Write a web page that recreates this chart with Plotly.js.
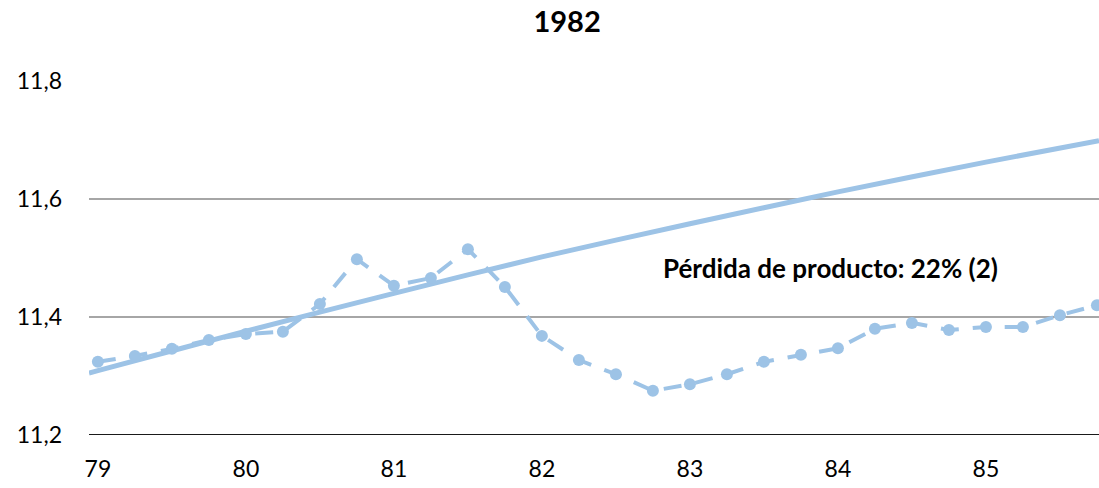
<!DOCTYPE html>
<html>
<head>
<meta charset="utf-8">
<script src="https://cdn.plot.ly/plotly-3.0.1.min.js"></script>
<style>html,body{margin:0;padding:0;background:#fff;}#chart{width:1099px;height:488px;}</style>
</head>
<body>
<div id="chart"></div>
<script>
// Quarterly periods (year 79 = 1979)
const periods = [79, 79.25, 79.5, 79.75, 80, 80.25, 80.5, 80.75, 81, 81.25, 81.5, 81.75,
  82, 82.25, 82.5, 82.75, 83, 83.25, 83.5, 83.75, 84, 84.25, 84.5, 84.75, 85, 85.25, 85.5, 85.75];
// Log product (observed)
const product = [11.324, 11.334, 11.346, 11.361, 11.371, 11.375, 11.422, 11.498, 11.453, 11.466, 11.515, 11.451,
  11.368, 11.327, 11.303, 11.275, 11.286, 11.303, 11.324, 11.336, 11.347, 11.380, 11.390, 11.378, 11.383, 11.383, 11.403, 11.420];
// Pre-crisis trend
const trendX = [78.94, 79, 80, 81, 82, 83, 84, 85, 85.764];
const trendY = [11.305, 11.309, 11.376, 11.440, 11.502, 11.558, 11.612, 11.6625, 11.699];
const xTickVals = [79, 80, 81, 82, 83, 84, 85];
const xTickText = ['79', '80', '81', '82', '83', '84', '85'];
const yTickVals = [11.2, 11.4, 11.6, 11.8];
const yTickText = ['11,2', '11,4', '11,6', '11,8'];
const titleText = '1982';
const noteText = 'Pérdida de producto: 22% (2)';

const blue = '#9dc3e6';
const font = 'Lato, "Open Sans", sans-serif';

const data = [
  {x: trendX, y: trendY, type: 'scatter', mode: 'lines',
   line: {color: blue, width: 5, shape: 'spline', smoothing: 0.6}, hoverinfo: 'skip', showlegend: false},
  {x: periods, y: product, type: 'scatter', mode: 'lines+markers',
   line: {color: blue, width: 4, dash: '18px,14px'},
   marker: {color: blue, size: 12}, showlegend: false}
];

const layout = {
  width: 1099, height: 488,
  margin: {l: 89, r: 0, t: 81, b: 53},
  paper_bgcolor: '#fff', plot_bgcolor: '#fff',
  title: {text: '<b>' + titleText + '</b>', x: 0.516, xanchor: 'center', y: 0.955, yanchor: 'middle',
          font: {family: font, size: 29, color: '#000'}},
  xaxis: {range: [78.94, 85.764], tickvals: xTickVals, ticktext: xTickText,
          showgrid: false, zeroline: false, showline: false, ticks: '',
          ticklabelstandoff: 18,
          tickfont: {family: font, size: 23, color: '#000'}},
  yaxis: {range: [11.2, 11.8], tickvals: yTickVals, ticktext: yTickText,
          showgrid: true, gridcolor: '#a6a6a6', gridwidth: 1.5, zeroline: false,
          showline: false, ticks: '', ticklabelstandoff: 26,
          tickfont: {family: font, size: 23, color: '#000'}},
  shapes: [{type: 'line', xref: 'paper', yref: 'y', x0: 0, x1: 1, y0: 11.2, y1: 11.2,
            line: {color: '#1a1a1a', width: 2}}],
  annotations: [{x: 83.95, y: 11.483, xref: 'x', yref: 'y', text: '<b>' + noteText + '</b>',
                 showarrow: false, xanchor: 'center', yanchor: 'middle',
                 font: {family: font, size: 26, color: '#000'}}]
};

Plotly.newPlot('chart', data, layout, {displayModeBar: false, staticPlot: true});
</script>
</body>
</html>
